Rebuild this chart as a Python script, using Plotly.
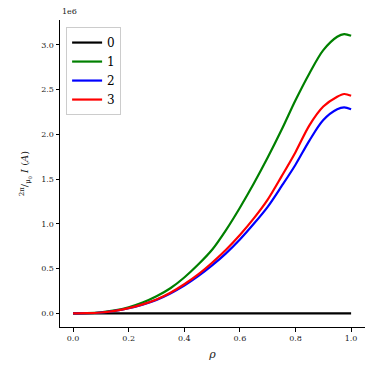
import plotly.graph_objects as go

rho = [0.0, 0.05, 0.1, 0.15, 0.2, 0.25, 0.3, 0.35, 0.4, 0.45, 0.5, 0.55,
       0.6, 0.65, 0.7, 0.75, 0.8, 0.85, 0.9, 0.95, 0.975, 1.0]

# values in units of 1e6
series_0 = [0.0] * len(rho)
series_1 = [0.0, 0.001, 0.010, 0.032, 0.068, 0.12, 0.19, 0.28, 0.40, 0.545, 0.71, 0.93,
            1.18, 1.45, 1.74, 2.05, 2.38, 2.68, 2.94, 3.09, 3.12, 3.10]
series_2 = [0.0, 0.001, 0.009, 0.027, 0.056, 0.097, 0.15, 0.222, 0.31, 0.415, 0.535, 0.67,
            0.825, 1.0, 1.19, 1.42, 1.66, 1.93, 2.16, 2.28, 2.30, 2.28]
series_3 = [0.0, 0.001, 0.009, 0.028, 0.058, 0.10, 0.155, 0.23, 0.325, 0.435, 0.565, 0.71,
            0.875, 1.06, 1.27, 1.53, 1.80, 2.10, 2.31, 2.42, 2.45, 2.43]

names = ["0", "1", "2", "3"]
colors = ["black", "green", "blue", "red"]
all_series = [series_0, series_1, series_2, series_3]

x_ticks = [0.0, 0.2, 0.4, 0.6, 0.8, 1.0]
y_ticks = [0.0, 0.5, 1.0, 1.5, 2.0, 2.5, 3.0]

font_family = "DejaVu Serif"

fig = go.Figure()
for name, col, ys in zip(names, colors, all_series):
    fig.add_trace(go.Scatter(x=rho, y=ys, mode="lines", name=name,
                             line=dict(color=col, width=2.2, shape="spline", smoothing=0.9)))

# the page body has an 8px default margin, so the figure is 8px smaller
fig.update_layout(
    width=366, height=366,
    margin=dict(l=52, r=9, t=12, b=47, autoexpand=False),
    paper_bgcolor="white", plot_bgcolor="white",
    font=dict(family=font_family, size=8, color="#222"),
    showlegend=True,
    legend=dict(x=0.02, y=0.977, xanchor="left", yanchor="top",
                bgcolor="white", bordercolor="#cccccc", borderwidth=1,
                font=dict(family=font_family, size=12, color="black"),
                tracegroupgap=0, itemwidth=30),
    xaxis=dict(range=[-0.047, 1.05], tickvals=x_ticks,
               ticktext=[f"{v:.1f}" for v in x_ticks], automargin=False,
               showgrid=False, zeroline=False, showline=True, linecolor="black",
               linewidth=1, ticks="outside", ticklen=3.5, tickcolor="black",
               title=dict(text="<i>ρ</i>", font=dict(family=font_family, size=11), standoff=8)),
    yaxis=dict(range=[-0.153, 3.277], tickvals=y_ticks,
               ticktext=[f"{v:.1f}" for v in y_ticks], automargin=False,
               showgrid=False, zeroline=False, showline=True, linecolor="black",
               linewidth=1, ticks="outside", ticklen=3.5, tickcolor="black",
               title=dict(text="<sup>2π</sup>/<sub>μ<sub>0</sub></sub> <i>I</i> (<i>A</i>)",
                          font=dict(family=font_family, size=10), standoff=10)),
)

fig.add_annotation(text="1e6", xref="paper", yref="paper", x=0.0, y=1.0,
                   xanchor="left", yanchor="bottom", showarrow=False, yshift=2,
                   font=dict(family=font_family, size=8, color="#222"))

fig.write_html("out.html")
